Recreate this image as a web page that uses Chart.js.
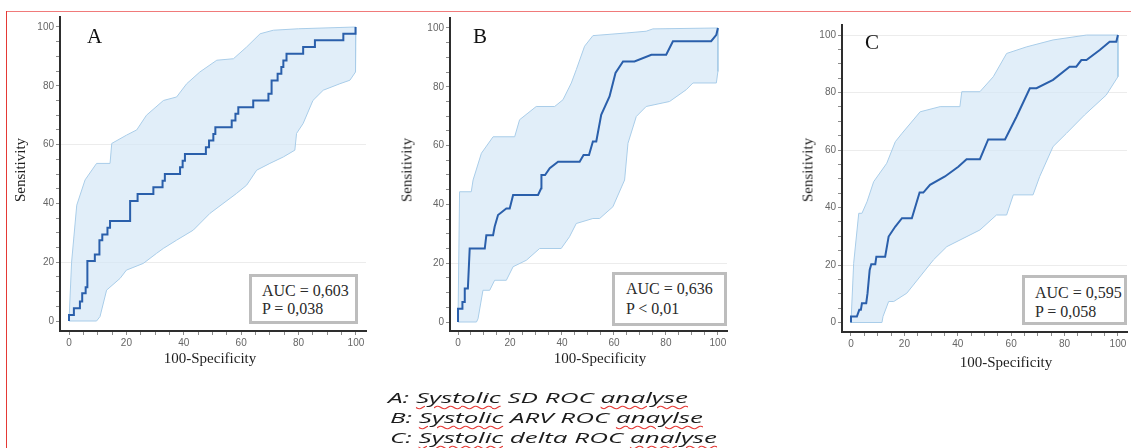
<!DOCTYPE html>
<html><head><meta charset="utf-8">
<script src="https://cdn.jsdelivr.net/npm/chart.js@4.4.1/dist/chart.umd.min.js"></script>
<style>
html,body{margin:0;padding:0;background:#fff;}
#wrap{position:relative;width:1131px;height:448px;overflow:hidden;background:#fff;}
canvas{position:absolute;left:0;top:0;}
.frameTop{position:absolute;left:6px;top:11px;width:1125px;height:0;border-top:1px solid #f07a7a;}
.frameLeft{position:absolute;left:6px;top:11px;width:0;height:437px;border-left:1px solid #e53935;}
.letter{position:absolute;font-family:"Liberation Serif",serif;font-size:21px;color:#111;line-height:1;z-index:3;}
.auc{position:absolute;box-sizing:border-box;border:3px solid #bdbdbd;background:#fff;font-family:"Liberation Serif",serif;font-size:16px;color:#2a2a2a;z-index:3;white-space:nowrap;}
.ttl{position:absolute;font-family:"Liberation Serif",serif;font-size:15px;color:#1e1e1e;white-space:nowrap;z-index:3;line-height:1;}
.cap{position:absolute;font-family:"Open Sans",sans-serif;font-style:italic;font-size:14.5px;line-height:20px;color:#1c1c1c;white-space:nowrap;transform-origin:left center;z-index:3;}
.sp{text-decoration:underline wavy #e53935;text-decoration-thickness:1px;text-underline-offset:2px;}
</style></head>
<body>
<div id="wrap">
  <canvas id="cA" width="1131" height="448"></canvas>
  <canvas id="cB" width="1131" height="448"></canvas>
  <canvas id="cC" width="1131" height="448"></canvas>
  <div class="frameTop"></div><div class="frameLeft"></div>

  <div class="letter" style="left:87px;top:26px;">A</div>
  <div class="letter" style="left:473px;top:26px;">B</div>
  <div class="letter" style="left:865px;top:32px;">C</div>

  <div class="ttl" style="left:210px;top:358px;transform:translate(-50%,-50%);">100-Specificity</div>
  <div class="ttl" style="left:20px;top:170px;transform:translate(-50%,-50%) rotate(-90deg);">Sensitivity</div>
  <div class="ttl" style="left:600px;top:358px;transform:translate(-50%,-50%);">100-Specificity</div>
  <div class="ttl" style="left:407px;top:170px;transform:translate(-50%,-50%) rotate(-90deg);">Sensitivity</div>
  <div class="ttl" style="left:1006px;top:362px;transform:translate(-50%,-50%);">100-Specificity</div>
  <div class="ttl" style="left:808px;top:170px;transform:translate(-50%,-50%) rotate(-90deg);">Sensitivity</div>

  <div class="auc" style="left:249px;top:274px;width:109px;height:50px;padding:5px 0 0 10px;line-height:18px;">AUC = 0,603<br>P = 0,038</div>
  <div class="auc" style="left:612px;top:272px;width:115px;height:54px;padding:4px 0 0 11px;line-height:20px;">AUC = 0,636<br>P &lt; 0,01</div>
  <div class="auc" style="left:1022px;top:275px;width:105px;height:50px;padding:5px 0 0 10px;line-height:19px;">AUC = 0,595<br>P = 0,058</div>

  <div class="cap" id="cap1" data-w="300" style="left:388px;top:388px;">A: <span class="sp">Systolic</span> SD ROC <span class="sp">analyse</span></div>
  <div class="cap" id="cap2" data-w="313" style="left:390px;top:408px;">B: <span class="sp">Systolic</span> ARV ROC <span class="sp">anaylse</span></div>
  <div class="cap" id="cap3" data-w="327" style="left:390px;top:428px;">C: <span class="sp">Systolic</span> delta ROC <span class="sp">analyse</span></div>
</div>
<script>
// ---- tick labels ----
const tickLabels = [0, 20, 40, 60, 80, 100];

// ---- Panel A: Systolic SD ----
const aRocX = [0,0,1.7,1.7,3.8,3.8,4.6,4.6,5.8,5.8,6.4,6.4,9,9,10.6,10.6,11.6,11.6,13.4,13.4,14.3,14.3,21.3,21.3,23.9,23.9,29.4,29.4,32.6,32.6,33.4,33.4,38.7,38.7,39.6,39.6,40.4,40.4,47.7,47.7,48.8,48.8,50.3,50.3,51,51,56.7,56.7,58,58,59,59,64.2,64.2,69.5,69.5,70.6,70.6,72.7,72.7,74,74,74.7,74.7,75.8,75.8,81.6,81.6,85.7,85.7,95.6,95.6,99.7,99.7,100];
const aRocY = [0,2,2,4.3,4.3,6.6,6.6,9.4,9.4,11.5,11.5,20.4,20.4,22.6,22.6,27.5,27.5,29.4,29.4,31.7,31.7,34,34,40.8,40.8,43.2,43.2,45.5,45.5,47.7,47.7,50,50,52.3,52.3,54.5,54.5,56.8,56.8,59.1,59.1,61.4,61.4,63.6,63.6,65.9,65.9,68.2,68.2,70.5,70.5,72.7,72.7,75,75,77.3,77.3,81.8,81.8,84.1,84.1,86.4,86.4,88.6,88.6,90.9,90.9,93.2,93.2,95.5,95.5,97.7,97.7,100,100];
const aUpX = [0,0.9,2.7,5.6,9.6,14.3,14.9,20,23.6,27,32.9,37.5,41,45.6,51.5,57.3,61.9,66.6,71.2,80,100];
const aUpY = [0,20,39.4,48,53.6,53.6,60.4,63.2,65,70,75,76.2,80.7,84.7,88.7,89.2,93.2,97.7,98.9,99.4,100];
const aLoX = [0,9.6,10.8,13.1,17.8,20,25.9,30.5,32.9,37.5,43.3,49.1,58.4,61.9,65.4,70,74.7,78.7,79.3,81.6,85,88.6,94.4,97.9,99.7,100];
const aLoY = [0,0,1.5,10.5,14.5,17.3,19.6,23,24.7,27.5,30.9,36.6,43.4,46.2,51.3,53.6,55.8,58.1,63.8,67.2,75,78.5,80.7,81.9,84.7,100];

// ---- Panel B: Systolic ARV ----
const bRocX = [0,0,1.7,1.7,2.6,2.6,3.8,4.5,10.3,10.9,13.5,14.1,15.4,18.6,19.9,21.2,30.8,32,32.1,33.5,35.3,38.5,46.8,48.3,50.4,51.9,53.2,55.1,58.3,60.6,63.5,67.9,74.4,80.1,82.7,97.4,99.4,100];
const bRocY = [0,4.5,4.5,6.8,6.8,11.4,11.4,25,25,29.5,29.5,32.4,36.4,38.6,38.6,43.2,43.2,45.5,50,50,52.3,54.5,54.5,56.8,56.8,61.4,61.4,70.5,76.7,84.7,88.6,88.6,90.9,90.9,95.5,95.5,97.7,100];
const bUpX = [0,0.6,5.1,5.8,9,13.5,21.8,23.7,30.1,37.2,40.4,43.6,45.5,48.7,51.9,64.7,72.4,75,100];
const bUpY = [0,44.3,44.3,48.3,57.4,63,63,68.8,73.3,73.3,75.6,81.3,85.8,93.8,97.4,98.3,98.9,99.7,100];
const bLoX = [0,7.1,7.7,9.6,12.2,14.1,18.6,21.2,26.3,31.4,39.7,42.9,45.5,51.9,54.5,59.6,64.1,65.4,68.6,72.4,81.4,87.8,90.4,99.4,100,100];
const bLoY = [0,0,1.1,10.8,10.8,14.2,14.2,18.8,21,25,25,29,33.5,35.2,35.2,39.2,48.3,60.8,69.9,73.3,75,79,81.3,81.3,85.2,100];

// ---- Panel C: Systolic delta ----
const cRocX = [0,0,2.2,3.1,3.7,4.1,5.7,6.2,7,7.6,9.1,9.5,12.8,14.1,16.6,19.1,22.8,25.7,27.1,29.6,35.2,40.2,43.3,48.3,51.4,57.7,62,67,69.5,75.7,81.9,84.4,86.3,88.2,93.2,96.9,99.4,100];
const cRocY = [0,2.1,2.1,4.4,4.4,6.7,6.7,10.2,18.3,20.3,20.3,22.9,22.9,29.9,33.4,36.3,36.3,45.2,45.2,47.9,50.8,54.2,56.8,56.8,63.7,63.7,71.6,81.5,81.5,84.4,89,89,91.3,91.3,94.8,97.7,97.7,100];
const cUpX = [0,1,2.9,4.1,6,8.5,13.4,16.6,19.1,25.9,33.4,40.8,41.5,48.3,53.3,58.3,65.8,75.7,88.2,100];
const cUpY = [0,20.6,38,38,42,49,55.4,62.9,65.8,73.3,75.1,75.1,80.3,80.3,85.5,93.6,95.9,98.3,100,100];
const cLoX = [0,11.6,12,14.1,16,20.9,30.9,35.9,48.3,54.5,58.3,60.8,68.2,70.7,75.7,80.7,87.5,95.6,100,100];
const cLoY = [0,0,2.1,7.3,7.3,10.2,21.8,26.4,32.2,37.4,37.4,44.4,44.4,50.8,61.2,65.8,72.2,79.1,85.5,100];

const minorTicks = [];
for (let v = 0; v <= 100; v += 5) minorTicks.push(v);

function pts(xs, ys) { return xs.map((x, i) => ({x: x, y: ys[i]})); }
function band(ux, uy, lx, ly) { return pts(ux, uy).concat(pts(lx, ly).reverse()); }

function panel(id, roc, bnd, geo, gridAt) {
  new Chart(document.getElementById(id), {
    type: 'line',
    data: {datasets: [
      {data: roc, borderColor: '#2a5fab', borderWidth: 2, pointRadius: 0, fill: false, tension: 0, order: 0},
      {data: bnd, borderColor: '#a9cde9', borderWidth: 1, backgroundColor: 'rgba(212,231,247,0.7)', pointRadius: 0, fill: 'shape', tension: 0, order: 1}
    ]},
    options: {
      responsive: false, animation: false, events: [],
      layout: {padding: {left: geo.left - 40, right: 1131 - geo.right, top: geo.top, bottom: 448 - geo.bottom - 30}},
      plugins: {legend: {display: false}, tooltip: {enabled: false}},
      scales: {
        x: {
          type: 'linear', min: geo.xmin, max: geo.xmax,
          afterBuildTicks: s => { s.ticks = minorTicks.map(v => ({value: v})); },
          afterFit: s => { s.height = 30; },
          ticks: {autoSkip: false, maxRotation: 0, padding: 2, color: '#666', font: {family: 'Liberation Sans', size: 10},
                  callback: v => tickLabels.includes(v) ? String(v) : ''},
          grid: {drawOnChartArea: false, tickLength: 4, tickColor: '#8c8c8c', tickWidth: 1},
          border: {display: true, color: '#2e2e2e', width: 2}
        },
        y: {
          type: 'linear', min: geo.ymin, max: geo.ymax,
          afterBuildTicks: s => { s.ticks = minorTicks.map(v => ({value: v})); },
          afterFit: s => { s.width = 40; },
          ticks: {autoSkip: false, padding: 2, color: '#666', font: {family: 'Liberation Sans', size: 10},
                  callback: v => tickLabels.includes(v) ? String(v) : ''},
          grid: {color: c => (c.tick && gridAt.includes(c.tick.value)) ? '#ececec' : 'rgba(0,0,0,0)',
                 tickLength: 4, tickColor: '#8c8c8c', tickWidth: 1},
          border: {display: true, color: '#2e2e2e', width: 2}
        }
      }
    }
  });
}

panel('cA', pts(aRocX, aRocY), band(aUpX, aUpY, aLoX, aLoY),
  {left: 60, right: 366, top: 17, bottom: 331, xmin: -3.14, xmax: 103.5, ymin: -3.4, ymax: 103.4}, [20, 60]);
panel('cB', pts(bRocX, bRocY), band(bUpX, bUpY, bLoX, bLoY),
  {left: 450, right: 727, top: 18, bottom: 331, xmin: -3.08, xmax: 103.5, ymin: -3.06, ymax: 103.4}, [20]);
panel('cC', pts(cRocX, cRocY), band(cUpX, cUpY, cLoX, cLoY),
  {left: 842, right: 1127, top: 25, bottom: 332, xmin: -3.37, xmax: 103.4, ymin: -3.3, ymax: 103.5}, [20, 60, 80, 100]);

// stretch caption lines to the reference widths
document.querySelectorAll('.cap').forEach(el => {
  const w = el.getBoundingClientRect().width;
  const target = +el.dataset.w;
  el.style.transform = 'scaleX(' + (target / w).toFixed(3) + ')';
});
</script>
</body></html>
